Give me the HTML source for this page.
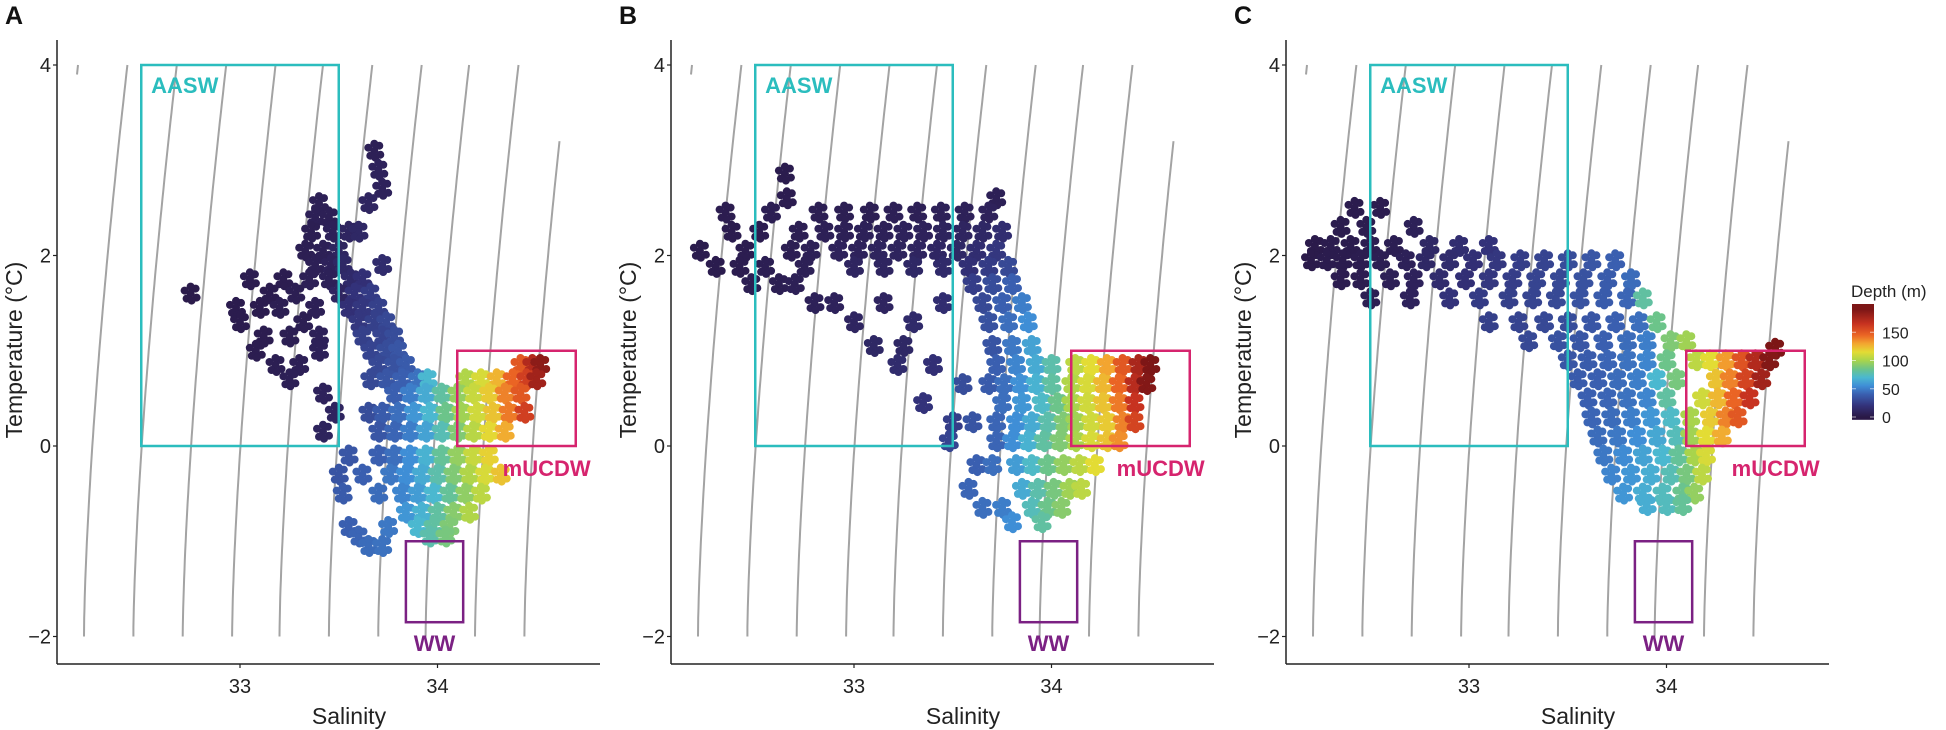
<!DOCTYPE html>
<html><head><meta charset="utf-8">
<style>
html,body{margin:0;padding:0;background:#fff;}
svg{display:block;font-family:"Liberation Sans","DejaVu Sans",sans-serif;}
</style></head>
<body>
<svg id="fig" width="1946" height="730" viewBox="0 0 1946 730" xmlns="http://www.w3.org/2000/svg"></svg>
<script>
// ---------- data ----------
const xTicks = [33, 34];
const yTicks = [4, 2, 0, -2];
const isoBottoms = [31.96, 32.21, 32.46, 32.71, 32.96, 33.20, 33.45, 33.70, 33.94, 34.19, 34.44, 34.69];
const panelLetters = ["A", "B", "C"];
const depthTicks = [0, 50, 100, 150];

const tA = [3.1,2.9,2.7,2.55,2.4,2.25,2.05,1.9,1.75,1.6,1.45,1.3,1.15,1.0,0.85,0.7,0.55,0.35,0.15,-0.1,-0.3,-0.5,-0.7,-0.85,-0.95,-1.05];
const sA = [[33.68],[33.70],[33.72],[33.40,33.65],[33.38,33.45],[33.36,33.47,33.55,33.60],[33.33,33.42,33.50],[33.38,33.46,33.52,33.72],
[33.05,33.22,33.35,33.45,33.56,33.62],[32.75,33.15,33.28,33.50,33.58,33.66],[32.98,33.10,33.20,33.38,33.55,33.62,33.70],[33.00,33.32,33.60,33.68,33.74],
[33.12,33.25,33.40,33.62,33.72,33.78],[33.08,33.40,33.66,33.74,33.80],[33.18,33.30,33.70,33.78,33.84,34.42,34.48,34.52],
[33.25,33.66,33.74,33.82,33.90,33.95,34.14,34.22,34.30,34.38,34.45,34.50],[33.42,33.78,33.86,33.94,34.02,34.10,34.18,34.26,34.34,34.42],
[33.48,33.65,33.72,33.80,33.88,33.96,34.04,34.12,34.20,34.28,34.36,34.44],[33.42,33.70,33.78,33.86,33.94,34.02,34.10,34.18,34.26,34.34],
[33.55,33.70,33.78,33.86,33.94,34.02,34.10,34.18,34.26],[33.50,33.62,33.76,33.84,33.92,34.00,34.08,34.16,34.24,34.32],
[33.52,33.70,33.82,33.90,33.98,34.06,34.14,34.22],[33.84,33.92,34.00,34.08,34.16],[33.55,33.75,33.90,33.98,34.06],[33.60,33.96,34.04],[33.65,33.72]];
const dA = [[6],[8],[8],[6,10],[6,6],[5,7,10,12],[5,6,10],[6,8,12,15],[4,4,6,7,14,18],[2,3,5,10,20,24],[3,3,5,6,18,22,26],[3,5,22,26,30],
[4,5,7,26,28,32],[4,7,28,32,36],[5,6,30,34,38,150,172,185],[6,30,36,40,46,70,102,112,126,145,160,178],[8,40,50,65,80,95,108,120,138,150],
[10,32,38,45,58,70,85,98,110,122,140,160],[9,36,42,50,62,76,90,104,116,128],[36,40,45,55,68,82,95,108,118],[35,40,48,55,65,78,90,102,112,122],
[38,44,52,60,70,82,94,105],[58,68,80,92,102],[40,48,70,80,90],[42,78,88],[44,46]];

const tB = [2.86,2.6,2.45,2.25,2.05,1.88,1.7,1.5,1.3,1.05,0.85,0.65,0.45,0.25,0.05,-0.2,-0.45,-0.65,-0.8];
const sB = [[32.65],[32.66,33.72],[32.35,32.58,32.82,32.95,33.08,33.2,33.32,33.44,33.56,33.68],
[32.38,32.52,32.72,32.85,32.95,33.05,33.15,33.25,33.35,33.45,33.55,33.65,33.75],
[32.22,32.45,32.68,32.78,32.92,33.02,33.12,33.22,33.32,33.42,33.52,33.62,33.72],
[32.3,32.42,32.55,32.75,33.0,33.15,33.3,33.45,33.58,33.68,33.78],[32.48,32.62,32.7,33.6,33.7,33.8],
[32.8,32.9,33.15,33.45,33.65,33.75,33.85],[33.0,33.3,33.68,33.78,33.88],[33.1,33.25,33.7,33.8,33.9],
[33.4,33.22,33.72,33.82,33.92,34.0,34.12,34.2,34.28,34.36,34.44,34.5],[33.55,33.68,33.76,33.84,33.92,34.0,34.1,34.18,34.26,34.34,34.42,34.48],
[33.35,33.75,33.85,33.95,34.03,34.1,34.18,34.26,34.34,34.42],[33.5,33.6,33.72,33.82,33.9,33.98,34.06,34.12,34.2,34.28,34.36,34.42],
[33.48,33.72,33.8,33.88,33.96,34.04,34.12,34.2,34.28,34.34],[33.62,33.7,33.82,33.9,33.98,34.06,34.14,34.22],
[33.58,33.85,33.93,34.01,34.09,34.15],[33.65,33.75,33.9,33.98,34.05],[33.8,33.95]];
const dB = [[3],[4,6],[4,5,5,5,5,6,6,7,7,8],[3,4,5,6,6,7,7,8,8,9,10,12,16],[3,4,5,6,8,8,9,9,10,11,12,16,22],
[3,4,5,6,10,10,12,14,18,24,30],[5,5,6,25,32,40],[7,8,10,16,30,40,50],[10,14,34,45,55],[12,12,35,48,62],
[18,15,40,52,65,78,105,115,130,150,175,190],[32,38,45,56,68,80,102,112,125,145,170,188],[20,45,58,72,85,100,110,122,140,165],
[25,35,42,55,65,78,90,98,110,120,138,158],[28,42,55,68,80,90,100,112,122,135],[40,45,60,72,85,95,105,115],
[42,65,78,88,98,105],[45,50,75,85,92],[55,80]];

const tC = [2.5,2.3,2.1,1.95,1.75,1.55,1.3,1.1,1.02,0.9,0.7,0.5,0.3,0.1,-0.1,-0.3,-0.5,-0.62];
const sC = [[32.42,32.55],[32.35,32.48,32.72],[32.22,32.3,32.4,32.5,32.62,32.8,32.95,33.1],
[32.2,32.28,32.36,32.45,32.55,32.68,32.78,32.9,33.02,33.14,33.26,33.38,33.5,33.62,33.74],
[32.35,32.45,32.6,32.72,32.85,32.98,33.1,33.22,33.34,33.46,33.58,33.7,33.82],
[32.5,32.7,32.9,33.05,33.2,33.32,33.44,33.56,33.68,33.8,33.88],[33.1,33.25,33.38,33.5,33.62,33.74,33.86,33.95],
[33.3,33.45,33.56,33.68,33.8,33.9,34.02,34.1],[34.55],
[33.5,33.6,33.7,33.8,33.9,34.0,34.15,34.22,34.3,34.38,34.45,34.52],[33.55,33.65,33.75,33.85,33.95,34.05,34.25,34.32,34.4,34.48],
[33.6,33.7,33.8,33.9,34.0,34.18,34.26,34.34,34.42],[33.62,33.72,33.82,33.92,34.02,34.12,34.22,34.3,34.36],
[33.65,33.75,33.85,33.95,34.05,34.12,34.2,34.28],[33.68,33.78,33.88,33.98,34.06,34.14,34.2],
[33.72,33.82,33.92,34.02,34.1,34.18],[33.78,33.88,33.98,34.08,34.14],[33.9,34.0,34.08]];
const dC = [[3,4],[3,4,7],[2,3,3,4,5,12,16,20],[2,3,3,4,5,7,12,15,18,22,25,28,32,36,40],[4,4,6,8,15,18,22,25,28,30,34,38,44],
[5,8,20,24,26,28,30,34,38,42,80],[26,28,30,32,36,40,45,85],[30,34,36,40,44,50,90,98],[195],
[36,38,42,46,52,85,105,115,132,152,172,188],[38,40,44,50,70,88,122,138,158,178],[40,42,46,52,80,110,125,145,165],
[42,44,50,58,72,100,120,138,150],[44,48,55,64,75,98,115,128],[48,54,62,70,82,100,112],[52,58,66,76,88,105],[58,66,74,84,95],[66,74,82]];

// ---------- layout ----------
const NS = "http://www.w3.org/2000/svg";
const svg = document.getElementById("fig");
const panelX = [57, 671, 1286];
const axisW = 543, yTop = 40, yBot = 664;
function xs(p, s){ return panelX[p] + 183 + (s - 33) * 197.5; }
function ys(t){ return 446 - t * 95.25; }
const cmapD = [0,20,40,55,70,85,100,115,130,145,165,190];
const cmapC = ["#2a1846","#33327a","#3a5fb0","#3f8ed6","#4bb8d0","#6cc48a","#a8d44c","#e3dc34","#f3a530","#ea6424","#c73220","#7d1616"];
// glyph: each observation drawn as a small clump of dots (fixed visual pattern)
const clump = [[0,0],[-6,-3],[5,-5],[-4,5],[6,4],[0,-7],[1,7]];
function hex(c){ return [1,3,5].map(i=>parseInt(c.substr(i,2),16)); }
function color(d){
  if (d <= cmapD[0]) return cmapC[0];
  for (let i=1;i<cmapD.length;i++){
    if (d <= cmapD[i]){
      const f=(d-cmapD[i-1])/(cmapD[i]-cmapD[i-1]);
      const a=hex(cmapC[i-1]), b=hex(cmapC[i]);
      return "rgb("+a.map((v,k)=>Math.round(v+(b[k]-v)*f)).join(",")+")";
    }
  }
  return cmapC[cmapC.length-1];
}
function mk(tag, attrs, parent){
  const e=document.createElementNS(NS,tag);
  for (const k in attrs) e.setAttribute(k,attrs[k]);
  (parent||svg).appendChild(e);
  return e;
}

const panels = [[tA,sA,dA],[tB,sB,dB],[tC,sC,dC]];
panels.forEach((pd, p) => {
  const g = mk("g", {});
  
  
  const ox = panelX[p];

  // isopycnals
  isoBottoms.forEach(s0 => {
    let pts = [];
    for (let t=-2; t<=4.001; t+=0.1){
      const s = s0 + 0.22*Math.pow((t+2)/6, 1.5);
      if (s >= 32.17 && s <= 34.62) pts.push(xs(p,s).toFixed(1)+","+ys(t).toFixed(1));
    }
    if (pts.length>1){
      const l = mk("polyline", {points: pts.join(" "), fill:"none", stroke:"#a3a3a3", "stroke-width":2}, g);
      
      
    }
  });

  // points
  const [tt, ss, dd] = pd;
  tt.forEach((t, r) => {
    ss[r].forEach((s, k) => {
      const cx = xs(p,s), cyy = ys(t), col = color(dd[r][k]);
      const pg = mk("g", {fill: col}, g);
      
      
      clump.forEach(o => {
        mk("circle", {cx:(cx+o[0]).toFixed(1), cy:(cyy+o[1]).toFixed(1), r:4}, pg);
      });
    });
  });

  // water mass boxes
  const boxes = [["aasw-box",32.5,33.5,0,4,"#2bbdbe"],["mucdw-box",34.1,34.7,0,1,"#d6246e"],["ww-box",33.84,34.13,-1.85,-1,"#7b2183"]];
  boxes.forEach(b => {
    const r = mk("rect", {x: xs(p,b[1]), y: ys(b[4]), width: xs(p,b[2])-xs(p,b[1]), height: ys(b[3])-ys(b[4]), fill:"none", stroke:b[5], "stroke-width":2.5}, g);
    
    
  });
  const labs = [["aasw-label","AASW",xs(p,32.55),93,"#2bbdbe","start"],["mucdw-label","mUCDW",xs(p,34.33),476,"#d6246e","start"],["ww-label","WW",xs(p,33.985),651,"#7b2183","middle"]];
  labs.forEach(L => {
    const tx = mk("text", {x:L[2], y:L[3], fill:L[4], "font-size":22, "font-weight":"bold", "text-anchor":L[5]}, g);
    tx.textContent = L[1];
    
    
  });

  // axes
  const ya = mk("line", {x1:ox, y1:yTop, x2:ox, y2:yBot, stroke:"#222", "stroke-width":1.5}, g);
  
  
  const xa = mk("line", {x1:ox, y1:yBot, x2:ox+axisW, y2:yBot, stroke:"#222", "stroke-width":1.5}, g);
  
  
  yTicks.forEach(v => {
    mk("line", {x1:ox-4, y1:ys(v), x2:ox, y2:ys(v), stroke:"#222", "stroke-width":1.2}, g);
    const tl = mk("text", {x:ox-6, y:ys(v)+7, "font-size":20, fill:"#222", "text-anchor":"end"}, g);
    tl.textContent = v < 0 ? "\u2212" + Math.abs(v) : String(v);
    
    
  });
  xTicks.forEach(v => {
    mk("line", {x1:xs(p,v), y1:yBot, x2:xs(p,v), y2:yBot+4, stroke:"#222", "stroke-width":1.2}, g);
    const tl = mk("text", {x:xs(p,v), y:693, "font-size":20, fill:"#222", "text-anchor":"middle"}, g);
    tl.textContent = String(v);
    
    
  });
  const xt = mk("text", {x:ox+292, y:724, "font-size":23, fill:"#222", "text-anchor":"middle"}, g);
  xt.textContent = "Salinity";
  
  
  const yt = mk("text", {x:0, y:0, "font-size":23, fill:"#222", "text-anchor":"middle", transform:"translate("+(ox-35)+",350) rotate(-90)"}, g);
  yt.textContent = "Temperature (\u00B0C)";
  
  
  const pl = mk("text", {x:ox-52, y:24, "font-size":25, "font-weight":"bold", fill:"#111"}, g);
  pl.textContent = panelLetters[p];
  
  
});

// ---------- colorbar legend ----------
const leg = mk("g", {});


const defs = mk("defs", {}, leg);
const grad = mk("linearGradient", {id:"cb", x1:0, y1:1, x2:0, y2:0}, defs);
const dMin = -5, dMax = 200;
for (let d=dMin; d<=dMax; d+=5){
  mk("stop", {offset: ((d-dMin)/(dMax-dMin)).toFixed(3), "stop-color": color(d)}, grad);
}
function cy(d){ return 417 - d*0.565; }
const bar = mk("rect", {x:1852, y:cy(dMax), width:22, height:cy(dMin)-cy(dMax), fill:"url(#cb)"}, leg);


depthTicks.forEach(d => {
  mk("line", {x1:1852, y1:cy(d), x2:1856, y2:cy(d), stroke:"#fff", "stroke-opacity":0.6}, leg);
  mk("line", {x1:1870, y1:cy(d), x2:1874, y2:cy(d), stroke:"#fff", "stroke-opacity":0.6}, leg);
  const tl = mk("text", {x:1882, y:cy(d)+6, "font-size":16, fill:"#222"}, leg);
  tl.textContent = String(d);
  
  
});
const lt = mk("text", {x:1851, y:297, "font-size":17, fill:"#222"}, leg);
lt.textContent = "Depth (m)";


</script>
</body></html>
